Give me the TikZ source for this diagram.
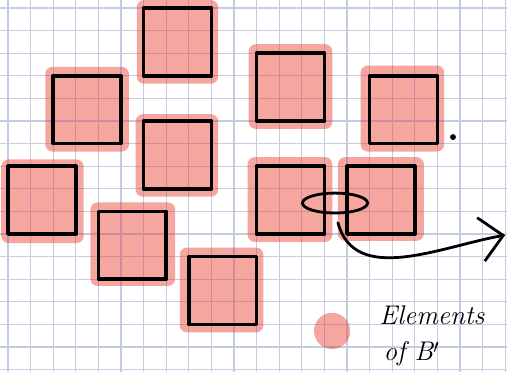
\documentclass[tikz,border=0pt]{standalone}
\usepackage{tikz}
\usepackage{xcolor}
\usetikzlibrary{arrows.meta}

\definecolor{gridblue}{RGB}{196,204,228}
\definecolor{gridpink}{RGB}{204,140,158}
\definecolor{blobpink}{RGB}{245,166,158}

\tikzset{
	% all the pink patches as one path
	blobs/.style={insert path={(5.7,-0.35) rectangle +(3.6,3.7)
		(1.65,2.6) rectangle +(3.7,3.75)
		(5.65,4.7) rectangle +(3.65,3.65)
		(-0.3,6.7) rectangle +(3.65,3.7)
		(3.65,8.6) rectangle +(3.75,3.7)
		(7.6,10.6) rectangle +(3.7,3.75)
		(10.65,1.6) rectangle +(3.7,3.75)
		(15.6,2.55) rectangle +(3.7,3.8)
		(10.6,6.6) rectangle +(3.75,3.75)
		(14.6,6.6) rectangle +(3.8,3.7)
		(14.34,14.29) circle (0.8)}}
}

\begin{document}
\begin{tikzpicture}[x=1cm,y=-1cm]

				\tikzstyle{blob}=[fill=blobpink, rounded corners=9pt]
				\tikzstyle{box}=[black, line width=4.5pt, line cap=round, line join=round]
				\tikzstyle{gridline}=[gridblue, line width=1.4pt]
				\tikzstyle{hand}=[font=\fontsize{34}{36}\selectfont\itshape, inner sep=0pt]

				\useasboundingbox[fill=white] (-0.354,-0.354) rectangle (22.08,16.11);

				\draw[gridline] (-0.354,-0.354) grid (22.08,16.11);

				% pink patches, the grid shows through
				\fill[blob, blobs];
				\begin{scope}
					\clip[rounded corners=9pt, blobs];
					\draw[gridline, gridpink] (-0.354,-0.354) grid (22.08,16.11);
				\end{scope}

				% the boxes
				\draw[box] (6,0) rectangle +(3,3);
				\draw[box] (2,3) rectangle +(3,3);
				\draw[box] (6,5) rectangle +(3,3);
				\draw[box] (0,7) rectangle +(3,3);
				\draw[box] (4,9) rectangle +(3,3);
				\draw[box] (8,11) rectangle +(3,3);
				\draw[box] (11,2) rectangle +(3,3);
				\draw[box] (16,3) rectangle +(3,3);
				\draw[box] (11,7) rectangle +(3,3);
				\draw[box] (15,7) rectangle +(3,3);

				\draw[line width=3.5pt] (14.47,8.63) ellipse (1.44 and 0.44);
				\fill (19.69,5.71) circle (0.13);

				\coordinate (s) at (14.6,9.5);
				\coordinate (t) at (22.0,10.05);
				\draw[line width=3.5pt, line cap=round, -{Straight Barb[length=1cm, width=1.95cm]}] (s) to[out=-75, in=-170] (t);

				\node[hand] (el) at (18.76,13.6) {Elements};
				\node[hand] (ob) at (17.85,15.3) {of B$'$};

\end{tikzpicture}
\end{document}
